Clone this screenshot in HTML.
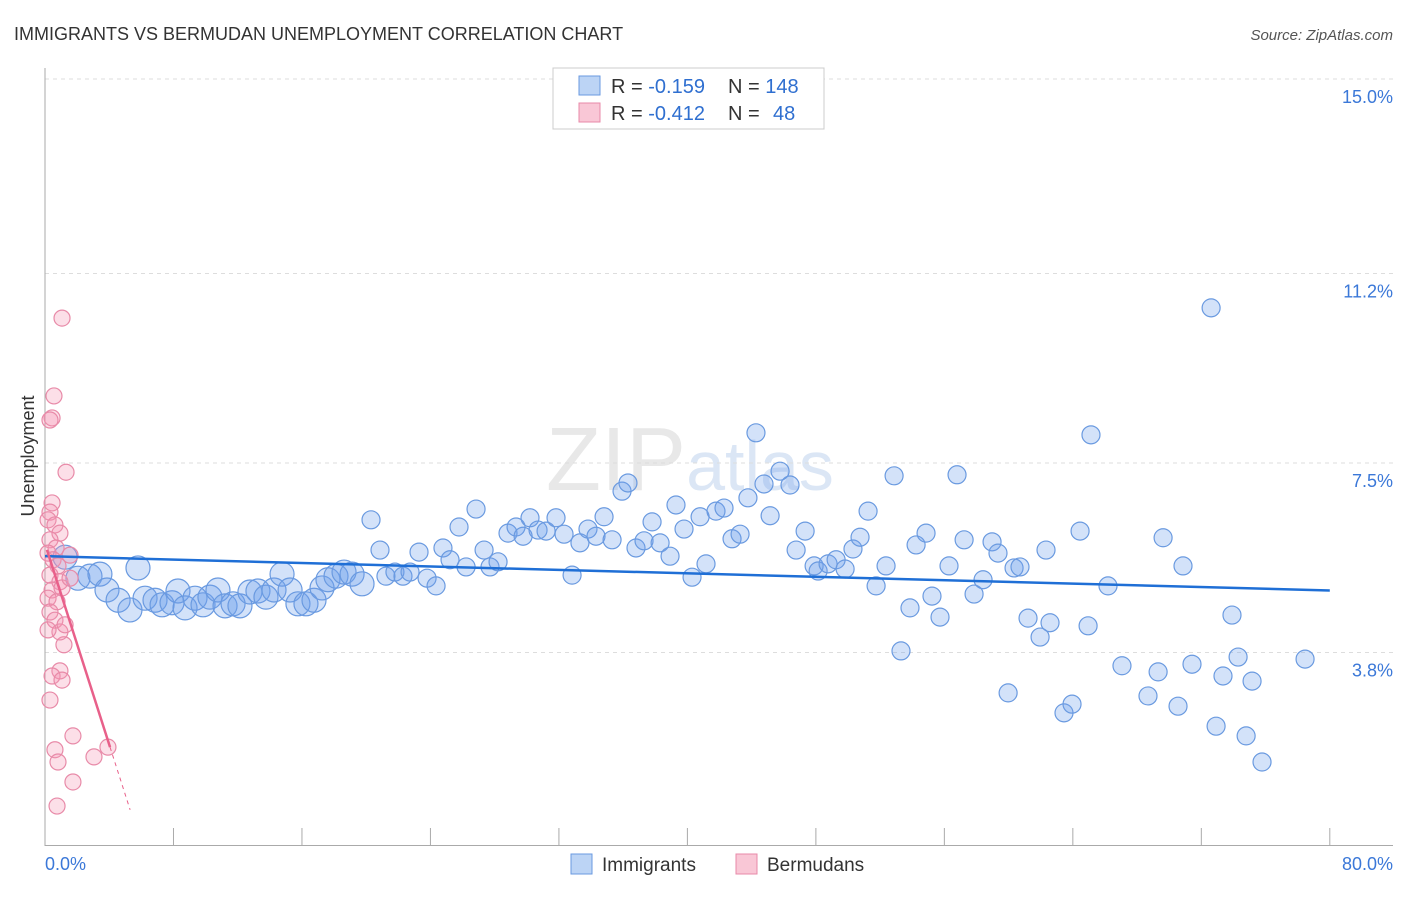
<!DOCTYPE html>
<html><head><meta charset="utf-8"><style>
body{margin:0;background:#fff;font-family:"Liberation Sans",sans-serif;}
svg text{font-family:"Liberation Sans",sans-serif;}
</style></head><body>
<svg id="chart" width="1406" height="892" xmlns="http://www.w3.org/2000/svg">
<text x="14" y="40" font-size="18" fill="#333">IMMIGRANTS VS BERMUDAN UNEMPLOYMENT CORRELATION CHART</text>
<text x="1393" y="40" font-size="15" fill="#555" font-style="italic" text-anchor="end">Source: ZipAtlas.com</text>
<text x="690" y="490" font-size="90" fill="#e8e8e8" text-anchor="middle" font-family="Liberation Serif">ZIP<tspan fill="#dbe6f5" font-family="Liberation Sans" font-size="70">atlas</tspan></text>
<g id="grid"></g>
<g id="axes"></g>
<g id="pts"></g>
<g id="lines"></g>
<text transform="translate(34,456) rotate(-90)" font-size="18" fill="#333" text-anchor="middle">Unemployment</text>
<g>
<rect x="553" y="68" width="271" height="61" fill="#fff" stroke="#ccc"/>
<rect x="579" y="76" width="21" height="19" fill="#bcd4f5" stroke="#6a9ae0"/>
<rect x="579" y="103" width="21" height="19" fill="#f9c7d6" stroke="#e88aa8"/>
<text x="611" y="93" font-size="20" fill="#333">R = <tspan fill="#2f6fd0">-0.159</tspan><tspan x="728">N = </tspan><tspan fill="#2f6fd0">148</tspan></text>
<text x="611" y="120" font-size="20" fill="#333">R = <tspan fill="#2f6fd0">-0.412</tspan><tspan x="728">N = </tspan><tspan fill="#2f6fd0" x="773">48</tspan></text>
</g>
<g>
<rect x="571" y="854" width="21" height="20" fill="#bcd4f5" stroke="#6a9ae0"/>
<text x="602" y="871" font-size="19" fill="#333">Immigrants</text>
<rect x="736" y="854" width="21" height="20" fill="#f9c7d6" stroke="#e88aa8"/>
<text x="767" y="871" font-size="19" fill="#333">Bermudans</text>
</g>
</svg>
<script>
const blueX=[1.25,2.05,2.8,3.42,3.86,4.55,5.29,5.79,6.23,6.85,7.29,7.91,8.28,8.72,9.34,9.84,10.27,10.77,11.21,11.71,12.14,12.76,13.26,13.76,14.26,14.76,15.26,15.75,16.25,16.75,17.25,17.62,18.12,18.62,19.12,19.74,20.3,20.86,21.23,21.79,22.29,22.73,23.29,23.79,24.35,24.78,25.22,25.78,26.22,26.84,27.34,27.71,28.21,28.83,29.33,29.77,30.2,30.7,31.2,31.82,32.32,32.82,33.31,33.81,34.31,34.81,35.31,35.93,36.3,36.8,37.3,37.8,38.3,38.92,39.29,39.79,40.29,40.79,41.16,41.78,42.28,42.78,43.28,43.77,44.27,44.77,45.15,45.77,46.39,46.77,47.33,47.89,48.14,48.76,49.26,49.82,50.31,50.75,51.25,51.75,52.37,52.87,53.3,53.86,54.24,54.86,55.23,55.73,56.29,56.79,57.23,57.85,58.41,58.97,59.34,59.97,60.34,60.71,61.21,61.96,62.33,62.58,63.45,63.95,64.45,64.95,65.13,66.19,67.06,68.68,69.31,69.62,70.55,70.86,71.42,72.61,72.92,73.35,73.91,74.29,74.79,75.16,75.78,78.46];
const blueY=[5.66,5.25,5.29,5.33,5.02,4.82,4.63,5.45,4.86,4.82,4.73,4.77,5.0,4.67,4.86,4.73,4.88,5.02,4.71,4.75,4.71,4.98,5.0,4.88,5.02,5.33,5.02,4.75,4.75,4.82,5.06,5.22,5.29,5.37,5.33,5.14,6.39,5.8,5.29,5.37,5.29,5.37,5.76,5.25,5.1,5.84,5.61,6.25,5.47,6.6,5.8,5.47,5.57,6.13,6.25,6.07,6.43,6.19,6.17,6.43,6.11,5.31,5.94,6.21,6.07,6.45,6.0,6.95,7.11,5.84,5.98,6.35,5.94,5.68,6.68,6.21,5.27,6.45,5.53,6.56,6.62,6.02,6.11,6.82,8.09,7.09,6.47,7.34,7.07,5.8,6.17,5.49,5.39,5.53,5.61,5.43,5.82,6.05,6.56,5.1,5.49,7.25,3.83,4.67,5.9,6.13,4.9,4.49,5.49,7.27,6.0,4.94,5.22,5.96,5.74,3.01,5.45,5.47,4.47,4.1,5.8,4.38,2.62,2.79,6.17,4.32,8.05,5.1,3.54,2.95,3.42,6.04,2.75,5.49,3.57,10.53,2.36,3.34,4.53,3.71,2.17,3.24,1.66,3.67];
const pinkX=[1.18,0.93,0.44,1.06,0.31,1.74,0.62,0.81,3.92,3.05,1.74,0.75,1.06,0.56,0.44,0.31,1.31,0.44,0.31,0.19,0.62,0.93,0.31,0.69,0.19,0.5,0.81,0.31,0.93,0.44,0.19,0.75,0.31,0.62,0.93,1.25,0.19,1.06,1.56,1.56];
const pinkY=[3.95,3.44,3.34,3.26,2.87,2.17,1.9,1.66,1.95,1.76,1.27,0.8,10.33,8.81,8.38,8.34,7.32,6.72,6.54,6.39,6.29,6.13,6.0,5.84,5.74,5.61,5.49,5.31,5.18,5.02,4.86,4.79,4.59,4.43,4.2,4.34,4.24,5.06,5.7,5.25];
const yTicks=[3.8,7.5,11.2,15.0];
const yTickLabels=["3.8%","7.5%","11.2%","15.0%"];
const blueTrend=[5.68,5.01];
const pinkTrend=[5.92,-0.98];
const NS='http://www.w3.org/2000/svg';
const sx=v=>45+v*16.06, sy=v=>79+(15-v)*51.2;
function mk(p,t,a){const e=document.createElementNS(NS,t);for(const k in a)e.setAttribute(k,a[k]);p.appendChild(e);return e;}
const grid=document.getElementById('grid'),axes=document.getElementById('axes'),pts=document.getElementById('pts'),lines=document.getElementById('lines');
yTicks.forEach((t,i)=>{const g=mk(grid,'line',{x1:45,x2:1393,y1:sy(t),y2:sy(t),stroke:'#ddd','stroke-dasharray':'4,4'});


const tx=mk(axes,'text',{x:1393,y:sy(t)+24,'font-size':18,fill:'#3b78d8','text-anchor':'end'});tx.textContent=yTickLabels[i];

});
mk(axes,'line',{x1:45,x2:45,y1:68,y2:846,stroke:'#aaa'});
mk(axes,'line',{x1:45,x2:1393,y1:845.5,y2:845.5,stroke:'#aaa'});
for(let v=0;v<=80;v+=8){const l=mk(axes,'line',{x1:sx(v),x2:sx(v),y1:828,y2:846,stroke:'#aaa'});

}
let t0=mk(axes,'text',{x:45,y:870,'font-size':18,fill:'#3b78d8'});t0.textContent='0.0%';


let t1=mk(axes,'text',{x:1393,y:870,'font-size':18,fill:'#3b78d8','text-anchor':'end'});t1.textContent='80.0%';


blueX.forEach((x,i)=>{const c=mk(pts,'circle',{cx:sx(x),cy:sy(blueY[i]),r:x<20?12:9,fill:'rgba(110,160,235,0.3)',stroke:'#6a9ae0','stroke-width':1.2});

});
pinkX.forEach((x,i)=>{const c=mk(pts,'circle',{cx:sx(x),cy:sy(pinkY[i]),r:8,fill:'rgba(245,150,180,0.3)',stroke:'#e88aa8','stroke-width':1.2});

});
const bl=mk(lines,'line',{x1:sx(0),y1:sy(blueTrend[0]),x2:sx(80),y2:sy(blueTrend[1]),stroke:'#1f6fd6','stroke-width':2.5});


const pf=x=>pinkTrend[0]+pinkTrend[1]*x;
const pl=mk(lines,'line',{x1:sx(0.12),y1:sy(pf(0.12)),x2:sx(4.05),y2:sy(pf(4.05)),stroke:'#e8608a','stroke-width':2.5});


const pd=mk(lines,'line',{x1:sx(4.05),y1:sy(pf(4.05)),x2:sx(5.3),y2:sy(pf(5.3)),stroke:'#e8608a','stroke-width':1,'stroke-dasharray':'4,4'});


</script>
</body></html>
